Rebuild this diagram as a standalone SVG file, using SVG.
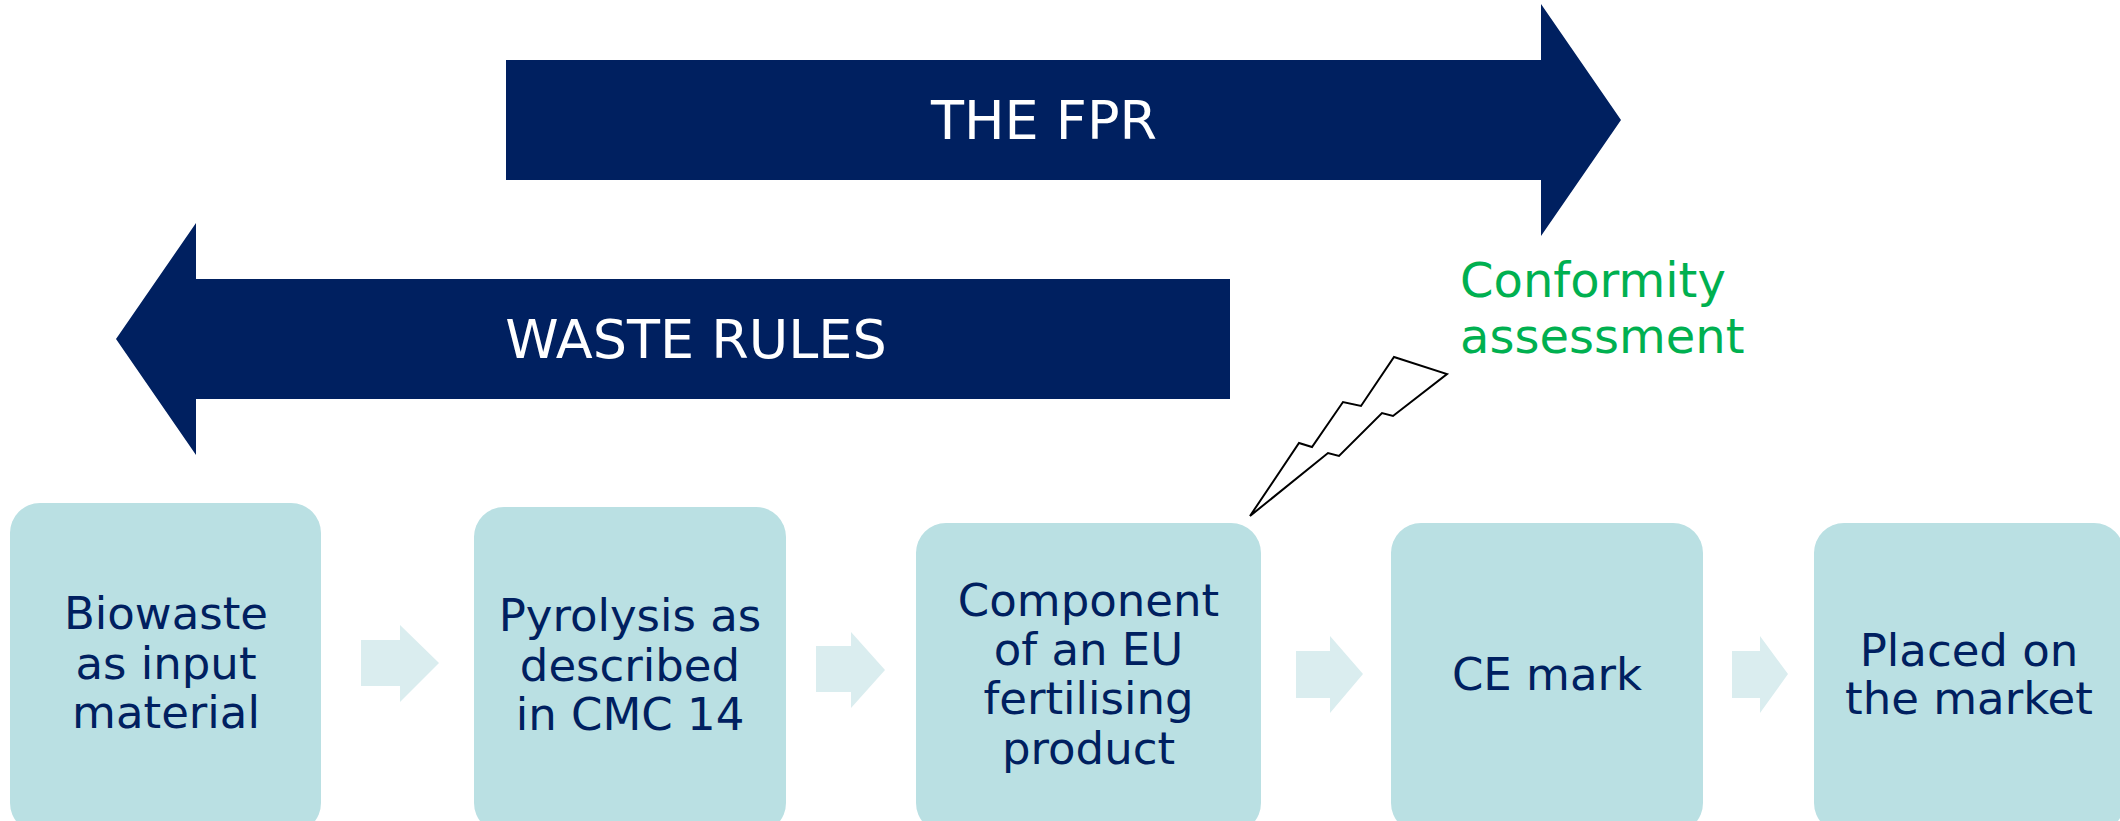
<svg xmlns="http://www.w3.org/2000/svg" width="2120" height="821" viewBox="0 0 2120 821">
<style>
.big{fill:#002060}
.bigt{font-family:"DejaVu Sans",Verdana,sans-serif;font-size:54px;fill:#ffffff;text-anchor:middle}
.box{fill:#BAE0E3}
.bt{font-family:"DejaVu Sans",Verdana,sans-serif;font-size:45px;fill:#002060;text-anchor:middle}
.sa{fill:#DAEDEF}
.gt{font-family:"DejaVu Sans",Verdana,sans-serif;font-size:48px;fill:#00B050}
</style>
<rect width="2120" height="821" fill="#ffffff"/>
<g id="fpr">
<polygon class="big" points="506,60 1541,60 1541,4 1621,120 1541,236 1541,180 506,180"/>
<text class="bigt" x="1044" y="139">THE FPR</text>
</g>
<g id="waste">
<polygon class="big" points="1230,279 196,279 196,223 116,339 196,455 196,399 1230,399"/>
<text class="bigt" x="696" y="358">WASTE RULES</text>
</g>
<g id="conformity">
<polygon points="1250,516 1299,443 1312,447 1343,402 1361,406 1394,357 1447,374 1393,416 1382,413 1339,456 1328,453" fill="#ffffff" stroke="#000000" stroke-width="2" stroke-linejoin="miter"/>
<text class="gt" x="1460" y="297">Conformity</text>
<text class="gt" x="1460" y="353">assessment</text>
</g>
<g id="biowaste">
<rect class="box" x="10" y="503" width="311" height="330" rx="30"/>
<text class="bt" x="166" y="629">Biowaste</text>
<text class="bt" x="166" y="678.5">as input</text>
<text class="bt" x="166" y="728">material</text>
</g>
<g id="pyrolysis">
<rect class="box" x="474" y="507" width="312" height="326" rx="30"/>
<text class="bt" x="630" y="631">Pyrolysis as</text>
<text class="bt" x="630" y="680.5">described</text>
<text class="bt" x="630" y="730">in CMC 14</text>
</g>
<g id="component">
<rect class="box" x="916" y="523" width="345" height="310" rx="30"/>
<text class="bt" x="1088.5" y="616">Component</text>
<text class="bt" x="1088.5" y="665">of an EU</text>
<text class="bt" x="1088.5" y="714">fertilising</text>
<text class="bt" x="1088.5" y="764">product</text>
</g>
<g id="cemark">
<rect class="box" x="1391" y="523" width="312" height="310" rx="30"/>
<text class="bt" x="1547" y="690">CE mark</text>
</g>
<g id="market">
<rect class="box" x="1814" y="523" width="310" height="310" rx="30"/>
<text class="bt" x="1969" y="666">Placed on</text>
<text class="bt" x="1969" y="714">the market</text>
</g>
<g id="connectors">
<polygon class="sa" points="361,640 400,640 400,625 439,663 400,702 400,686 361,686"/>
<polygon class="sa" points="816,646 851,646 851,632 885,670 851,708 851,692 816,692"/>
<polygon class="sa" points="1296,651 1330,651 1330,636 1363,674 1330,713 1330,698 1296,698"/>
<polygon class="sa" points="1732,651 1760,651 1760,636 1788,674 1760,713 1760,698 1732,698"/>
</g>
</svg>
